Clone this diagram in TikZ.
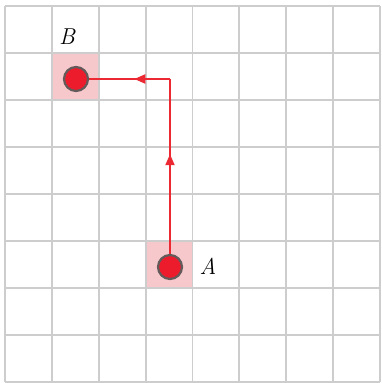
\documentclass[tikz,border=0pt]{standalone}
\usetikzlibrary{arrows.meta,decorations.markings}
\definecolor{gridgray}{RGB}{205,205,205}
\definecolor{cellpink}{RGB}{246,200,204}
\definecolor{dotred}{RGB}{236,28,45}
\definecolor{ringgray}{RGB}{100,90,90}
\definecolor{pathred}{RGB}{236,40,50}
\tikzset{
  gridline/.style={draw=gridgray,line width=1.8pt},
  cellbox/.style={fill=cellpink,draw=none,minimum width=46pt,minimum height=46pt,inner sep=0pt},
  dotnode/.style={circle,fill=dotred,draw=ringgray,line width=2.2pt,minimum size=24pt,inner sep=0pt},
  redpath/.style={draw=pathred,line width=2pt},
  midarrow/.style={postaction={decorate},decoration={markings,mark=at position #1 with {\arrow{Triangle[length=11pt,width=9pt]}}}},
  lbl/.style={font=\fontsize{23}{27}\selectfont\itshape,inner sep=0pt}
}
\begin{document}
\begin{tikzpicture}[x=1pt,y=-1pt]
\useasboundingbox (0,0) rectangle (382,383);
\fill[white] (0,0) rectangle (382,383);
% highlighted cells
\node[cellbox] (cellB) at (75.5,77) {};
\node[cellbox] (cellA) at (169.5,264.5) {};
% grid
\foreach \i in {0,...,8} {
  \draw[gridline] ({5+46.875*\i},6) -- ({5+46.875*\i},382);
  \draw[gridline] (5,{6+47*\i}) -- (380,{6+47*\i});
}
% path
\coordinate (corner) at (170,79);
\coordinate (Bc) at (76,79);
\coordinate (Ac) at (170,267);
\draw[redpath,midarrow=0.6] (Ac) -- (corner);
\draw[redpath,midarrow=0.38] (corner) -- (Bc);
% dots
\node[dotnode] (B) at (Bc) {};
\node[dotnode] (A) at (Ac) {};
% labels
\node[lbl] (labB) at (67,37) {B};
\node[lbl] (labA) at (208,266) {A};
\end{tikzpicture}
\end{document}
